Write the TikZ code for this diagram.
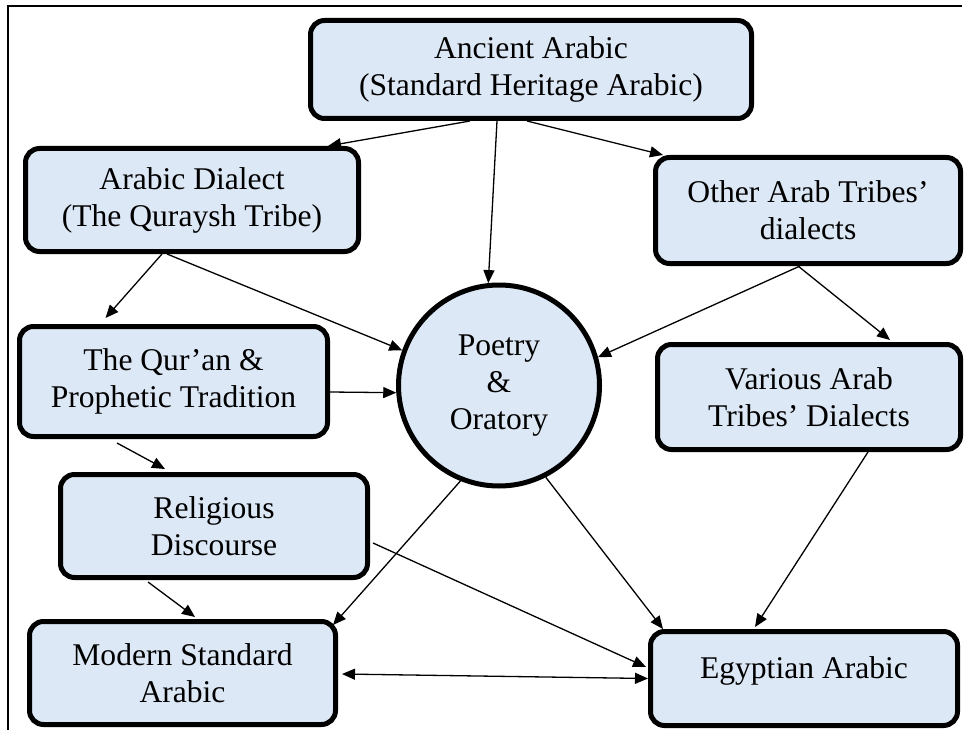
\documentclass[tikz,border=0pt]{standalone}
\usepackage{fontspec}
\setmainfont{Liberation Serif}
\usetikzlibrary{arrows.meta}
\definecolor{boxblue}{RGB}{221,232,246}
\begin{document}
\begin{tikzpicture}[x=1pt,y=-1pt,
  box/.style={draw, line width=5pt, rounded corners=14pt, fill=boxblue, align=center,
    font=\fontsize{31.6}{37}\selectfont, inner sep=0pt},
  circ/.style={draw, circle, line width=5pt, fill=boxblue, align=center,
    font=\fontsize{31.6}{37}\selectfont, inner sep=0pt, minimum size=201pt},
  conn/.style={line width=1.3pt, -{Triangle[length=13pt,width=11pt]}},
  frame/.style={line width=1.5pt}]
\useasboundingbox (0,0) rectangle (968,730);
\draw[frame] (8,730) -- (8,6) -- (962,6);

\node[box, minimum width=441pt, minimum height=98pt] (anc) at (531,69.5) {Ancient Arabic\\(Standard Heritage Arabic)};
\node[box, minimum width=333pt, minimum height=103pt] (dia) at (192,200) {Arabic Dialect\\(The Quraysh Tribe)};
\node[box, minimum width=305pt, minimum height=106pt] (oth) at (808,210.5) {Other Arab Tribes’\\dialects};
\node[box, minimum width=308pt, minimum height=110pt] (qur) at (173.5,381.5) {The Qur’an \&\\Prophetic Tradition};
\node[box, minimum width=303pt, minimum height=105pt] (var) at (809,397) {Various Arab\\Tribes’ Dialects};
\node[box, minimum width=307pt, minimum height=103pt] (rel) at (214,526) {Religious\\Discourse};
\node[box, minimum width=306pt, minimum height=103pt] (msa) at (182.5,673) {Modern Standard\\Arabic};
\node[box, minimum width=307pt, minimum height=94pt, text depth=22pt] (egy) at (804,678.5) {Egyptian Arabic};
\node[circ] (poe) at (499,385.5) {Poetry\\\&\\Oratory};

\draw[conn] ([xshift=-61pt]anc.south) -- ([xshift=136pt]dia.north);
\draw[conn] ([xshift=-34pt]anc.south) -- (poe.96);
\draw[conn] ([xshift=-4pt]anc.south) -- ([xshift=10pt]oth.north west);
\draw[conn] ([xshift=-30pt]dia.south) -- ([xshift=-68pt,yshift=6pt]qur.north);
\draw[conn] ([xshift=-25pt]dia.south) -- (poe.160);
\draw[conn] ([yshift=-10.5pt]qur.east) -- (poe.184);
\draw[conn] ([xshift=-8pt]oth.south) -- (poe.16);
\draw[conn] ([xshift=-10pt]oth.south) -- ([xshift=81pt,yshift=2pt]var.north);
\draw[conn] ([xshift=-56.5pt,yshift=-4pt]qur.south) -- ([xshift=-49pt,yshift=3pt]rel.north);
\draw[conn] ([xshift=3pt,yshift=-17pt]rel.east) -- ([xshift=-2pt,yshift=11.5pt]egy.west);
\draw[conn] ([xshift=-66pt,yshift=-2pt]rel.south) -- ([xshift=12.5pt,yshift=2pt]msa.north);
\draw[conn] (poe.248) -- ([xshift=-5pt,yshift=-6pt]msa.north east);
\draw[conn] (poe.297) -- ([xshift=15pt]egy.north west);
\draw[conn] ([xshift=59pt]var.south) -- ([xshift=-49pt,yshift=2pt]egy.north);
\draw[line width=1.3pt, {Triangle[length=13pt,width=11pt]}-{Triangle[length=13pt,width=11pt]}] ([xshift=4pt,yshift=-1pt]msa.east) -- (egy.west);
\end{tikzpicture}
\end{document}
